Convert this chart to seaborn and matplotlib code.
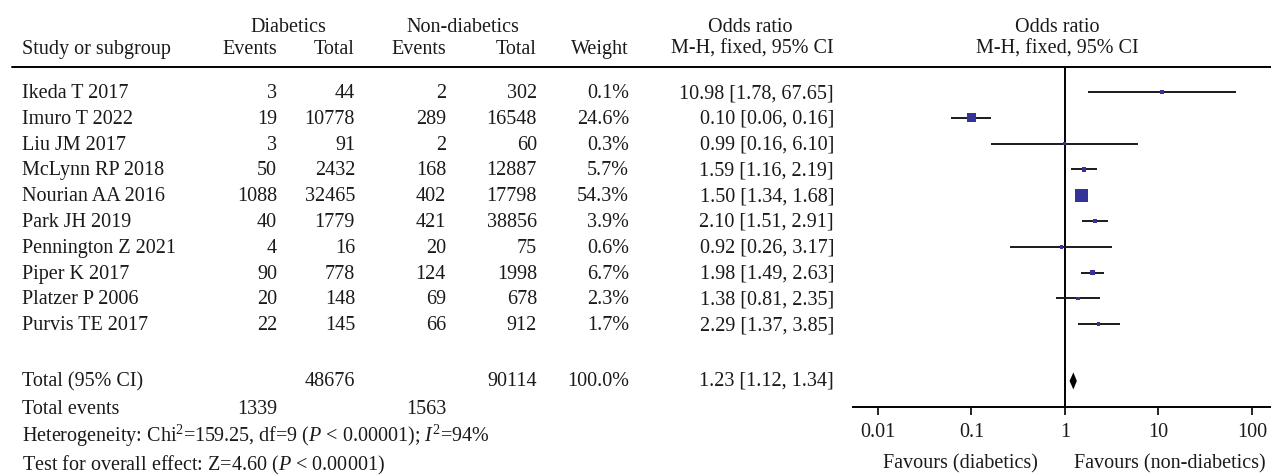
import numpy as np
import pandas as pd
import seaborn as sns
import matplotlib.pyplot as plt

# Study data
studies = ["Ikeda T 2017", "Imuro T 2022", "Liu JM 2017", "McLynn RP 2018",
           "Nourian AA 2016", "Park JH 2019", "Pennington Z 2021",
           "Piper K 2017", "Platzer P 2006", "Purvis TE 2017"]
diab_events = [3, 19, 3, 50, 1088, 40, 4, 90, 20, 22]
diab_total = [44, 10778, 91, 2432, 32465, 1779, 16, 778, 148, 145]
non_events = [2, 289, 2, 168, 402, 421, 20, 124, 69, 66]
non_total = [302, 16548, 60, 12887, 17798, 38856, 75, 1998, 678, 912]
weight = [0.1, 24.6, 0.3, 5.7, 54.3, 3.9, 0.6, 6.7, 2.3, 1.7]
odds = [10.98, 0.10, 0.99, 1.59, 1.50, 2.10, 0.92, 1.98, 1.38, 2.29]
ci_low = [1.78, 0.06, 0.16, 1.16, 1.34, 1.51, 0.26, 1.49, 0.81, 1.37]
ci_high = [67.65, 0.16, 6.10, 2.19, 1.68, 2.91, 3.17, 2.63, 2.35, 3.85]

# pooled result
total_diab = 48676
total_non = 90114
total_events_diab = 1339
total_events_non = 1563
pooled_or = 1.23
pooled_low = 1.12
pooled_high = 1.34

tick_values = [0.01, 0.1, 1, 10, 100]
tick_labels = ["0.01", "0.1", "1", "10", "100"]

df = pd.DataFrame({"study": studies, "or": odds, "low": ci_low, "high": ci_high,
                   "weight": weight})
df["row"] = np.arange(len(df))
df["area"] = np.maximum(df["weight"] * 1.61, 7)

sns.set_theme(style="white")
plt.rcParams['font.family'] = ['Liberation Serif', 'DejaVu Serif']
plt.rcParams['mathtext.fontset'] = 'custom'
plt.rcParams['mathtext.rm'] = 'Liberation Serif'
plt.rcParams['mathtext.it'] = 'Liberation Serif:italic'
FS = 14.5
TXT = '#1a1a1a'

W, H = 1271, 477
fig = plt.figure(figsize=(W / 100, H / 100), dpi=100)


def put(x, y, s, ha='left', **kw):
    # place text by pixel position (baseline), measured from the top left
    fig.text(x / W, 1 - y / H, s, ha=ha, va='baseline', fontsize=FS, color=TXT, **kw)


# forest plot panel
ax = fig.add_axes([853 / W, 1 - 408 / H, (W - 853) / W, (408 - 68) / H])
ax.set_xscale('log')
ax.set_xlim(0.0054, 160)
ax.set_ylim(12.21, -0.97)

ax.hlines(df["row"], df["low"], df["high"], color='#1a1a1a', lw=1.4, zorder=2)
sns.scatterplot(data=df, x="or", y="row", size="area",
                sizes=(df["area"].min(), df["area"].max()),
                marker='s', color='#35339a', linewidth=0, legend=False, ax=ax, zorder=3)

pooled_row = 11.2
ax.fill([pooled_low, pooled_or, pooled_high, pooled_or],
        [pooled_row, pooled_row - 0.33, pooled_row, pooled_row + 0.33],
        color='black', lw=0, zorder=3)
ax.axvline(1, color='black', lw=1.4, zorder=1)

for side in ['top', 'right', 'left']:
    ax.spines[side].set_visible(False)
ax.spines['bottom'].set_color('black')
ax.spines['bottom'].set_linewidth(1.4)
ax.set_yticks([])
ax.set_xticks(tick_values)
ax.set_xticklabels(tick_labels)
ax.minorticks_off()
ax.tick_params(axis='x', direction='out', length=6, width=1.2, color='black',
               labelsize=FS, labelcolor=TXT, pad=5, bottom=True)
ax.set_xlabel("")
ax.set_ylabel("")

# header rule across the whole table
fig.add_artist(plt.Line2D([12 / W, 1], [1 - 68 / H, 1 - 68 / H],
                          transform=fig.transFigure, color='black', lw=1.4))

# headers
put(288, 32, "Diabetics", ha='center')
put(463, 32, "Non-diabetics", ha='center')
put(750, 32, "Odds ratio", ha='center')
put(1057, 32, "Odds ratio", ha='center')
put(22, 54, "Study or subgroup")
put(277, 54, "Events", ha='right')
put(355, 54, "Total", ha='right')
put(446, 54, "Events", ha='right')
put(537, 54, "Total", ha='right')
put(629, 54, "Weight", ha='right')
put(834, 54, "M-H, fixed, 95% CI", ha='right')
put(1057, 54, "M-H, fixed, 95% CI", ha='center')

# study rows
for i in range(len(studies)):
    yb = 98 + 25.8 * i
    put(22, yb, studies[i])
    put(277, yb, str(diab_events[i]), ha='right')
    put(355, yb, str(diab_total[i]), ha='right')
    put(446, yb, str(non_events[i]), ha='right')
    put(537, yb, str(non_total[i]), ha='right')
    put(629, yb, f"{weight[i]:.1f}%", ha='right')
    put(834, yb, f"{odds[i]:.2f} [{ci_low[i]:.2f}, {ci_high[i]:.2f}]", ha='right')

# totals and summary lines
put(22, 386, "Total (95% CI)")
put(355, 386, str(total_diab), ha='right')
put(537, 386, str(total_non), ha='right')
put(629, 386, "100.0%", ha='right')
put(834, 386, f"{pooled_or:.2f} [{pooled_low:.2f}, {pooled_high:.2f}]", ha='right')
put(22, 414, "Total events")
put(277, 414, str(total_events_diab), ha='right')
put(446, 414, str(total_events_non), ha='right')
put(22, 442, r"Heterogeneity: Chi$^{2}$=159.25, df=9 ($P$ < 0.00001); $I^{2}$=94%")
put(22, 470, r"Test for overall effect: Z=4.60 ($P$ < 0.00001)")

put(960, 468, "Favours (diabetics)", ha='center')
put(1170, 468, "Favours (non-diabetics)", ha='center')

plt.savefig("out.png", dpi=100)
